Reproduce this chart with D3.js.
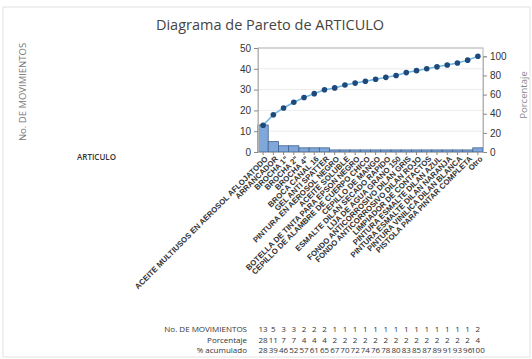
<!DOCTYPE html>
<html>
<head>
<meta charset="utf-8">
<script src="https://cdn.jsdelivr.net/npm/d3@7"></script>
<style>
  body { margin: 0; background: #fff; }
  svg { font-family: "Open Sans", "Noto Sans", sans-serif; }
</style>
</head>
<body>
<svg id="Pareto"></svg>
<script>
// --- data ---
let articulos = [
  'ACEITE MULTIUSOS EN AEROSOL AFLOJATODO',
  'ARRANCADOR',
  'BROCHA 1"',
  'BROCHA 2"',
  'BROCHA 4"',
  'BROCA CANAL 16',
  'GEL ANTI SPATTER',
  'PINTURA EN AEROSOL NEGRO',
  'ACEITE SOLUBLE',
  'BOTELLA DE TINTA PARA EPSON NEGRO',
  'CEPILLO DE ALAMBRE DE CUERPO CHICO',
  'CEPILLO DE MANGO',
  'ESMALTE DILAN SECADO RAPIDO',
  'LIJA DE AGUA GRANO 150',
  'FONDO ANTICORROSIVO DILAN GRIS',
  'FONDO ANTICORROSIVO DILAN ROJO',
  'LIMPIADOR DE CONTACTOS',
  'PINTURA ESMALTE DILAN AZUL',
  'PINTURA ESMALTE DILAN NARANJA',
  'PINTURA VINILICA DILAN BLANCA',
  'PISTOLA PARA PINTAR COMPLETA',
  'Otro'
];
let movimientos = [13, 5, 3, 3, 2, 2, 2, 1, 1, 1, 1, 1, 1, 1, 1, 1, 1, 1, 1, 1, 1, 2];
let porcentaje  = [28, 11, 7, 7, 4, 4, 4, 2, 2, 2, 2, 2, 2, 2, 2, 2, 2, 2, 2, 2, 2, 4];
let acumulado   = [28, 39, 46, 52, 57, 61, 65, 67, 70, 72, 74, 76, 78, 80, 83, 85, 87, 89, 91, 93, 96, 100];
let leftTicks  = [0, 10, 20, 30, 40, 50];
let rightTicks = [0, 20, 40, 60, 80, 100];

function getConfig() {
  let width = 532;
  let height = 359;
  let plot = { left: 258, right: 483, top: 48, bottom: 152 };
  let container = d3.select('#Pareto');
  container.attr('width', width).attr('height', height);
  return { width, height, plot, container };
}

function getScales(config) {
  let { plot } = config;
  let total = d3.sum(movimientos);
  let xScale = d3.scaleBand()
    .domain(articulos)
    .range([plot.left, plot.right])
    .padding(0);
  let yScale = d3.scaleLinear()
    .domain([0, 50])
    .range([plot.bottom, plot.top]);
  // 100 % sits at the total count on the left axis
  let yPct = d3.scaleLinear()
    .domain([0, 100])
    .range([plot.bottom, yScale(total)]);
  return { xScale, yScale, yPct };
}

function drawFrame(config, scales) {
  let { container, plot, width, height } = config;
  let { yScale } = scales;
  container.append('rect')
    .attr('x', 3).attr('y', 7)
    .attr('width', width - 5).attr('height', height - 9)
    .attr('fill', 'none').attr('stroke', '#e2e2e2');

  container.append('g').selectAll('line').data(leftTicks.slice(1)).enter()
    .append('line')
    .attr('x1', plot.left).attr('x2', plot.right)
    .attr('y1', d => yScale(d)).attr('y2', d => yScale(d))
    .attr('stroke', '#ececec');

  container.append('rect')
    .attr('x', plot.left).attr('y', plot.top)
    .attr('width', plot.right - plot.left).attr('height', plot.bottom - plot.top)
    .attr('fill', 'none').attr('stroke', '#b4b4b4');
}

function drawBars(config, scales) {
  let { container } = config;
  let { xScale, yScale } = scales;
  container.append('g').selectAll('.bar').data(articulos).enter()
    .append('rect')
    .attr('class', 'bar')
    .attr('x', d => xScale(d))
    .attr('y', (d, i) => yScale(movimientos[i]))
    .attr('width', xScale.bandwidth())
    .attr('height', (d, i) => yScale(0) - yScale(movimientos[i]))
    .attr('fill', '#7fa7d9')
    .attr('stroke', '#41638f')
    .attr('stroke-width', 0.8);
}

function drawLine(config, scales) {
  let { container } = config;
  let { xScale, yPct } = scales;
  let cx = (d, i) => xScale(articulos[i]) + xScale.bandwidth() / 2;
  let line = d3.line().x(cx).y(d => yPct(d));
  container.append('path')
    .datum(acumulado)
    .attr('d', line)
    .attr('fill', 'none')
    .attr('stroke', '#6fb6e6')
    .attr('stroke-width', 1.5);
  container.append('g').selectAll('circle').data(acumulado).enter()
    .append('circle')
    .attr('cx', cx)
    .attr('cy', d => yPct(d))
    .attr('r', 2.8)
    .attr('fill', '#1d4a7a');
}

function drawAxes(config, scales) {
  let { container, plot } = config;
  let { xScale, yScale, yPct } = scales;

  let axisL = d3.axisLeft(yScale).tickValues(leftTicks).tickSize(4).tickPadding(3);
  let gl = container.append('g')
    .attr('transform', `translate(${plot.left},0)`)
    .call(axisL);

  let axisR = d3.axisRight(yPct).tickValues(rightTicks).tickSize(4).tickPadding(3);
  let gr = container.append('g')
    .attr('transform', `translate(${plot.right},0)`)
    .call(axisR);

  let axisB = d3.axisBottom(xScale).tickSize(3).tickSizeOuter(0).tickPadding(2);
  let gb = container.append('g')
    .attr('transform', `translate(0,${plot.bottom})`)
    .call(axisB);
  gb.selectAll('text')
    .attr('text-anchor', 'end')
    .attr('dx', '-0.2em')
    .attr('dy', '0.5em')
    .attr('transform', 'rotate(-45)')
    .style('font-size', '7.8px')
    .style('font-weight', 600)
    .attr('fill', '#333');

  [gl, gr, gb].forEach(g => {
    g.select('.domain').attr('stroke', '#b4b4b4');
    g.selectAll('.tick line').attr('stroke', '#888');
  });
  [gl, gr].forEach(g => {
    g.selectAll('text').style('font-size', '10px').attr('fill', '#333');
  });
}

function drawTexts(config, scales) {
  let { container } = config;
  let { xScale } = scales;

  container.append('text')
    .attr('x', 270).attr('y', 30)
    .attr('text-anchor', 'middle')
    .style('font-size', '14.5px')
    .attr('fill', '#444')
    .text('Diagrama de Pareto de ARTICULO');

  container.append('text')
    .attr('transform', 'translate(26,92) rotate(-90)')
    .attr('text-anchor', 'middle')
    .style('font-size', '9.5px')
    .attr('fill', '#777')
    .text('No. DE MOVIMIENTOS');

  container.append('text')
    .attr('transform', 'translate(527,95) rotate(-90)')
    .attr('text-anchor', 'middle')
    .style('font-size', '9.5px')
    .attr('fill', '#888')
    .text('Porcentaje');

  container.append('text')
    .attr('x', 77).attr('y', 160)
    .style('font-size', '8px')
    .style('font-weight', 600)
    .attr('fill', '#333')
    .text('ARTICULO');

  // table under the chart, one column per bar
  let rows = [
    { name: 'No. DE MOVIMIENTOS', values: movimientos },
    { name: 'Porcentaje', values: porcentaje },
    { name: '% acumulado', values: acumulado }
  ];
  let table = container.append('g');
  rows.forEach((row, r) => {
    let y = 332 + r * 10.5;
    table.append('text')
      .attr('x', 247).attr('y', y)
      .attr('text-anchor', 'end')
      .style('font-size', '8px')
      .attr('fill', '#333')
      .text(row.name);
    table.selectAll(null).data(row.values).enter()
      .append('text')
      .attr('x', (d, i) => xScale(articulos[i]) + xScale.bandwidth() / 2)
      .attr('y', y)
      .attr('text-anchor', 'middle')
      .style('font-size', '8px')
      .attr('fill', '#333')
      .text(d => d);
  });
}

function drawChart() {
  let config = getConfig();
  let scales = getScales(config);
  drawFrame(config, scales);
  drawBars(config, scales);
  drawLine(config, scales);
  drawAxes(config, scales);
  drawTexts(config, scales);
}

drawChart();
</script>
</body>
</html>
